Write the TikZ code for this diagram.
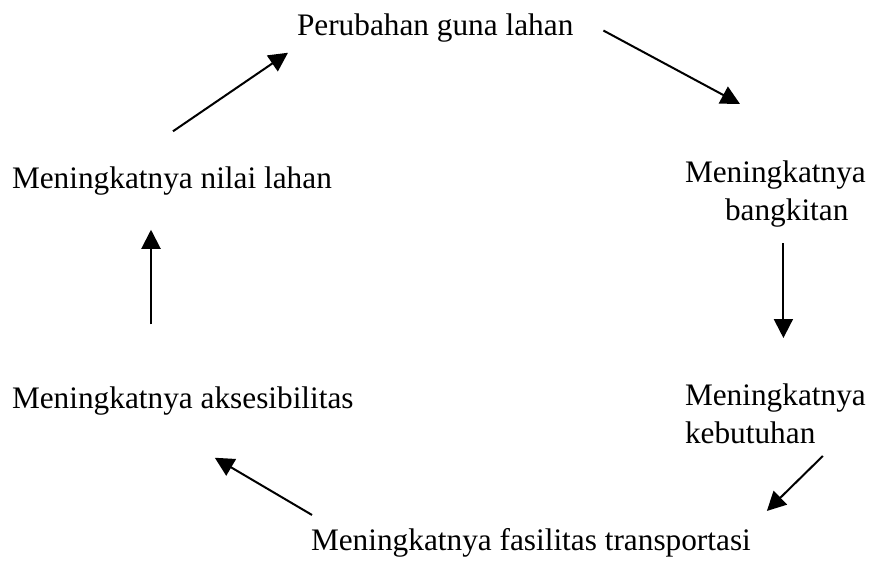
\documentclass[tikz,border=0pt]{standalone}
\usepackage{fontspec}
\setmainfont{Liberation Serif}
\usetikzlibrary{arrows.meta}
\begin{document}
\begin{tikzpicture}[
  x=0.5pt,
  y=-0.5pt,
  every node/.style={font=\fontsize{15.65}{19}\selectfont},
  stage/.style={inner sep=0pt, outer sep=0pt},
  link/.style={draw=black, line width=1pt, -{Triangle[length=9.5pt, width=9.5pt]}}
]
  \useasboundingbox (0,0) rectangle (872,562);

  % the six stages of the cycle
  \node[stage, anchor=base west] (perubahan) at (297,35) {Perubahan guna lahan};
  \node[stage, anchor=north west, align=left] (bangkitan) at (685,161)
    {Meningkatnya\\\hspace*{20pt}bangkitan};
  \node[stage, anchor=north west, align=left] (kebutuhan) at (685,384)
    {Meningkatnya\\kebutuhan};
  \node[stage, anchor=base west] (fasilitas) at (311,550) {Meningkatnya fasilitas transportasi};
  \node[stage, anchor=base west] (aksesibilitas) at (12,408) {Meningkatnya aksesibilitas};
  \node[stage, anchor=base west] (nilai) at (12,188) {Meningkatnya nilai lahan};

  % arrows round the cycle
  \draw[link] ([shift={(161,-35)}]nilai.north west) -- ([shift={(-9,11)}]perubahan.south west);
  \draw[link] ([shift={(30,3)}]perubahan.east) -- ([shift={(55,-57)}]bangkitan.north west);
  \draw[link] ([shift={(8,16)}]bangkitan.south) -- ([shift={(8,-46)}]kebutuhan.north);
  \draw[link] ([shift={(-43,12)}]kebutuhan.south east) -- ([shift={(16,-17)}]fasilitas.north east);
  \draw[link] ([shift={(1,-13)}]fasilitas.north west) -- ([shift={(32,43)}]aksesibilitas.south);
  \draw[link] ([shift={(139,-62)}]aksesibilitas.north west) -- ([shift={(139,35)}]nilai.south west);
\end{tikzpicture}
\end{document}
